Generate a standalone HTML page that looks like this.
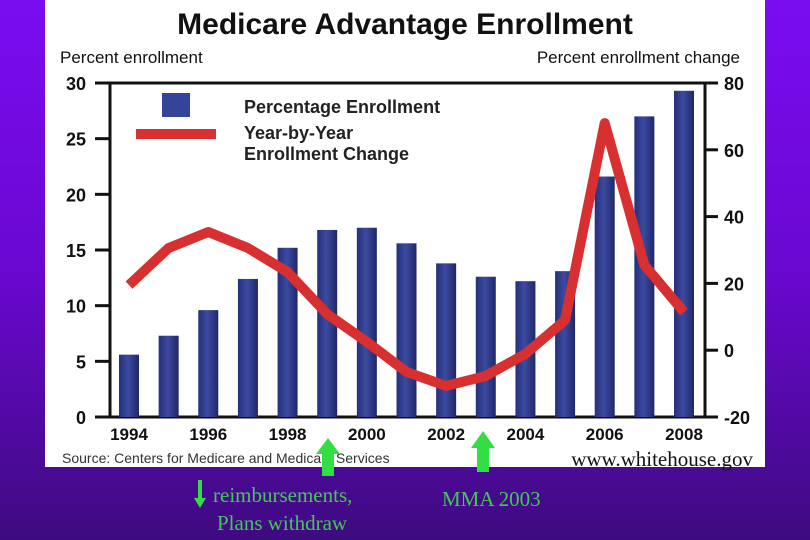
<!DOCTYPE html>
<html><head><meta charset="utf-8"><style>
html,body{margin:0;padding:0;}
body{width:810px;height:540px;overflow:hidden;background:linear-gradient(180deg,#7a0cf0 0%,#6a08d0 50%,#3e0a80 100%);position:relative;font-family:"Liberation Sans",sans-serif;}
</style></head><body>
<svg width="810" height="540" style="position:absolute;left:0;top:0">
<defs><linearGradient id="bar" x1="0" x2="1"><stop offset="0" stop-color="#24307a"/><stop offset="0.45" stop-color="#3c4aa0"/><stop offset="1" stop-color="#1e2868"/></linearGradient></defs>
<rect x="45" y="0" width="720" height="467" fill="#fff"/>
<text x="405" y="34" text-anchor="middle" font-size="30" font-weight="bold" fill="#111">Medicare Advantage Enrollment</text>
<text x="60" y="63" font-size="17" fill="#111">Percent enrollment</text>
<text x="740" y="63" text-anchor="end" font-size="17" fill="#111">Percent enrollment change</text>
<g id="axes"></g>
<g id="bars"></g>
<g id="line"></g>
<rect x="162" y="93" width="28" height="24" fill="#34449a"/>
<rect x="136" y="129" width="80" height="10" fill="#d83030"/>
<text x="244" y="113" font-size="18" font-weight="bold" fill="#222">Percentage Enrollment</text>
<text x="244" y="139" font-size="18" font-weight="bold" fill="#222">Year-by-Year</text>
<text x="244" y="160" font-size="18" font-weight="bold" fill="#222">Enrollment Change</text>
<text x="62" y="463" font-size="14" fill="#333">Source: Centers for Medicare and Medicaid Services</text>
<text x="753" y="466" text-anchor="end" font-size="21" fill="#111" font-family="Liberation Serif,serif">www.whitehouse.gov</text>
<g fill="#33dd44">
<path d="M322,476 L334,476 L334,454 L340,454 L328,438 L316,454 L322,454 Z"/>
<path d="M477,472 L489,472 L489,448 L495,448 L483,431 L471,448 L477,448 Z"/>
<path d="M198,480 L202,480 L202,498 L206,498 L200,508 L194,498 L198,498 Z"/>
</g>
<g font-family="Liberation Serif,serif" font-size="21" fill="#44c855">
<text x="213" y="502">reimbursements,</text>
<text x="217" y="530">Plans withdraw</text>
<text x="442" y="506">MMA 2003</text>
</g>
</svg>
<script>
const years=[1994,1995,1996,1997,1998,1999,2000,2001,2002,2003,2004,2005,2006,2007,2008];
const enrollment=[5.6,7.3,9.6,12.4,15.2,16.8,17.0,15.6,13.8,12.6,12.2,13.1,21.6,27.0,29.3];
const change=[19.5,30.6,35.4,30.6,23.4,10.8,2.5,-6.5,-10.7,-7.7,-1.1,9,68,25.5,11.4];
const leftTicks=[0,5,10,15,20,25,30];
const rightTicks=[-20,0,20,40,60,80];
const xLabels=[1994,1996,1998,2000,2002,2004,2006,2008];
const NS="http://www.w3.org/2000/svg";
const PT=83,PB=417,PL=110,PR=705;
const xs=y=>129+(y-1994)*(684-129)/14;
const yl=v=>PB-v*(PB-PT)/30;
const yrs=v=>PB-(v+20)*(PB-PT)/100;
function mk(t,a,p){const e=document.createElementNS(NS,t);for(const k in a)e.setAttribute(k,a[k]);p.appendChild(e);return e;}
const ax=document.getElementById('axes');
const fr=mk('path',{d:`M${PL},${PT}H${PR}V${PB}M${PL},${PT}V${PB}M95,${PB}H718`,stroke:'#111','stroke-width':3,fill:'none'},ax);


leftTicks.forEach(v=>{const t=mk('line',{x1:95,x2:PL,y1:yl(v),y2:yl(v),stroke:'#111','stroke-width':3},ax);


const s=mk('text',{x:86,y:yl(v)+7,'text-anchor':'end','font-size':18,'font-weight':'bold',fill:'#111'},ax);s.textContent=v;

});
rightTicks.forEach(v=>{const t=mk('line',{x1:PR,x2:718,y1:yrs(v),y2:yrs(v),stroke:'#111','stroke-width':3},ax);


const s=mk('text',{x:724,y:yrs(v)+7,'font-size':18,'font-weight':'bold',fill:'#111'},ax);s.textContent=v;

});
xLabels.forEach(v=>{const s=mk('text',{x:xs(v),y:440,'text-anchor':'middle','font-size':17,'font-weight':'bold',fill:'#111'},ax);s.textContent=v;

});
const bg=document.getElementById('bars');
years.forEach((yv,i)=>{const b=mk('rect',{x:xs(yv)-10,y:yl(enrollment[i]),width:20,height:PB-yl(enrollment[i]),fill:'url(#bar)'},bg);

});
const lg=document.getElementById('line');
const pl=mk('polyline',{points:years.map((y,i)=>xs(y)+','+yrs(change[i])).join(' '),fill:'none',stroke:'#d83030','stroke-width':10,'stroke-linejoin':'round'},lg);


</script>
</body></html>
